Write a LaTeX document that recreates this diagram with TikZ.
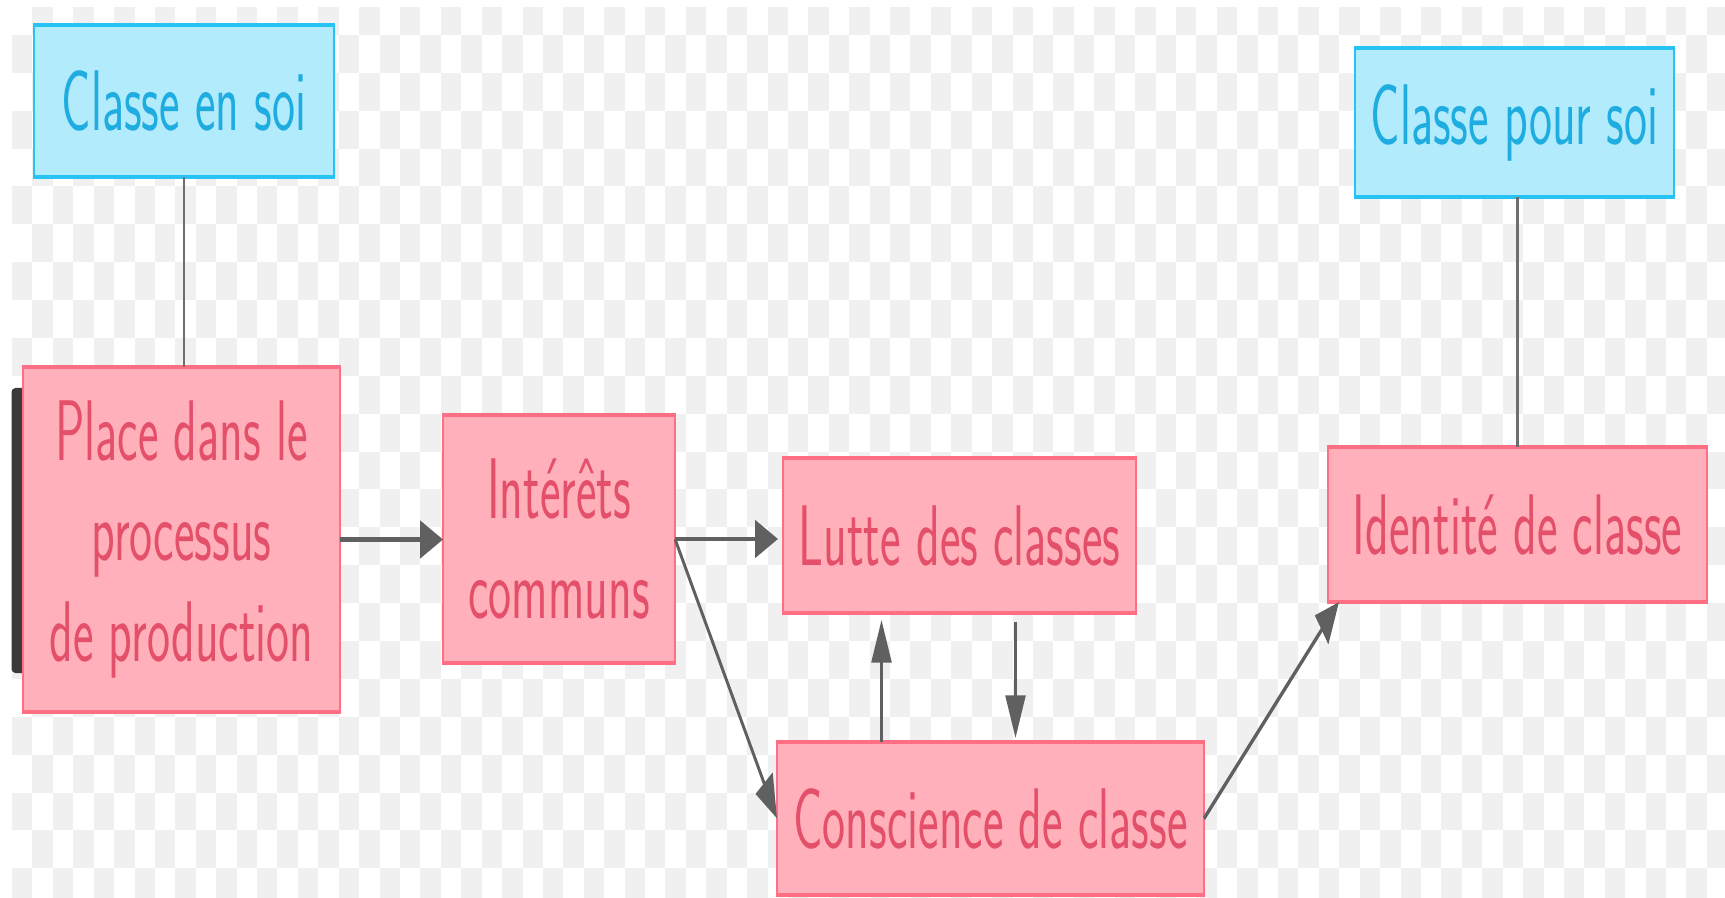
\documentclass[tikz,border=0pt]{standalone}
\usepackage{fontspec}
\newfontfamily\boxfont{lmsans17-regular.otf}[FakeStretch=1.055]
\usetikzlibrary{arrows.meta}
\definecolor{bgray}{RGB}{240,240,240}
\definecolor{barc}{RGB}{58,58,58}
\definecolor{pinkfill}{RGB}{255,176,186}
\definecolor{pinkdraw}{RGB}{255,110,130}
\definecolor{pinktext}{RGB}{228,80,105}
\definecolor{cyanfill}{RGB}{178,235,252}
\definecolor{cyandraw}{RGB}{40,195,245}
\definecolor{cyantext}{RGB}{30,172,225}
\definecolor{arrc}{RGB}{96,96,96}
\definecolor{linec}{RGB}{110,110,110}
\tikzset{
  box/.style={rectangle, draw, line width=1.2pt, inner sep=0pt, outer sep=0pt,
    font=\boxfont\fontsize{23.2}{27}\selectfont, align=center},
  pinkbox/.style={box, fill=pinkfill, draw=pinkdraw, text=pinktext},
  cyanbox/.style={box, fill=cyanfill, draw=cyandraw, text=cyantext},
  arr/.style={draw=arrc, line width=1.3pt, -{Triangle[length=11.5pt,width=10pt]}},
  conn/.style={draw=linec, line width=1.1pt}
}
\begin{document}
\begin{tikzpicture}[x=0.5pt,y=-0.5pt]
\useasboundingbox (0,0) rectangle (1725,898);
\fill[white] (0,0) rectangle (1725,898);
\begin{scope}
\clip (12,8) rectangle (1725,898);
\foreach \r in {-1,...,22}{
  \pgfmathtruncatemacro{\cs}{mod(\r+100,2)}
  \pgfmathtruncatemacro{\cn}{\cs+2}
  \foreach \c in {\cs,\cn,...,83}{
    \fill[bgray] ({12+20.42*\c},{35+37.875*\r}) rectangle ++(20.42,37.875);
  }
}
\end{scope}
\fill[barc, rounded corners=2pt] (11.5,388) rectangle (30,673);
\begin{scope}[transform canvas={yscale=1.855}, y=-0.26954pt]
  \node[cyanbox, minimum width=150pt, minimum height=40.97pt] (cen) at (184,101) {Classe en soi};
  \node[cyanbox, minimum width=159.5pt, minimum height=40.16pt] (cps) at (1514.5,122.5) {Classe pour soi};
  \node[pinkbox, minimum width=158.5pt, minimum height=92.99pt] (place) at (181.5,539.5) {Place dans le\\processus\\de production};
  \node[pinkbox, minimum width=116pt, minimum height=66.85pt] (inter) at (559,539) {Intérêts\\communs};
  \node[pinkbox, minimum width=176.5pt, minimum height=41.78pt] (lutte) at (959.5,535.5) {Lutte des classes};
  \node[pinkbox, minimum width=213.5pt, minimum height=41.24pt] (consc) at (990.5,818.5) {Conscience de classe};
  \node[pinkbox, minimum width=189.5pt, minimum height=41.78pt] (ident) at (1517.5,524.5) {Identité de classe};

  \draw[conn] (cen.south) -- (cen.south |- place.north);
  \draw[conn] (ident.north |- cps.south) -- (ident.north);
  \draw[arr] (place.east) -- (place.east -| inter.west);
  \draw[arr, shorten >=2.5pt] (inter.east) -- (inter.east -| lutte.west);
  \draw[arr] (inter.east) -- (consc.west);
  \coordinate (upbase) at ([xshift=-54.5pt]consc.north);
  \draw[arr, shorten >=1.9pt] (upbase) -- (upbase |- lutte.south);
  \coordinate (dntop) at ([xshift=28pt]lutte.south);
  \draw[arr, shorten <=2.4pt, shorten >=1.1pt] (dntop) -- (dntop |- consc.north);
  \draw[arr] (consc.east) -- ([xshift=5.5pt]ident.south west);
\end{scope}
\end{tikzpicture}
\end{document}
